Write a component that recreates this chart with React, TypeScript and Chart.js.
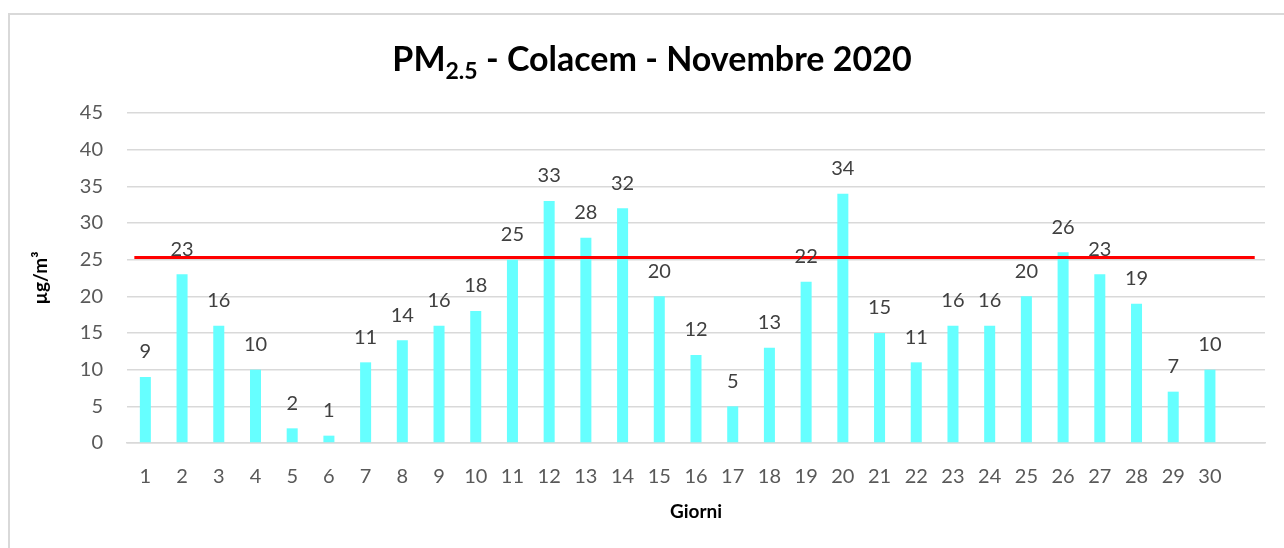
import React, { useEffect, useRef } from "react";
import { Chart, registerables } from "chart.js";

Chart.register(...registerables);

const days: string[] = [
  "1", "2", "3", "4", "5", "6", "7", "8", "9", "10",
  "11", "12", "13", "14", "15", "16", "17", "18", "19", "20",
  "21", "22", "23", "24", "25", "26", "27", "28", "29", "30", "",
];
const pm25: (number | null)[] = [
  9, 23, 16, 10, 2, 1, 11, 14, 16, 18,
  25, 33, 28, 32, 20, 12, 5, 13, 22, 34,
  15, 11, 16, 16, 20, 26, 23, 19, 7, 10, null,
];
const limitValue = 25.3;
const yTicks = { min: 0, max: 45, step: 5 };
const titleMain = "PM";
const titleSub = "2.5";
const titleRest = " - Colacem - Novembre 2020";
const yTitle = "µg/m³";
const xTitle = "Giorni";

const FONT = "Lato";

const titlePlugin = {
  id: "subTitle",
  afterDraw(chart: any) {
    const ctx = chart.ctx;
    ctx.save();
    const big = `bold 34px ${FONT}`;
    const small = `bold 23px ${FONT}`;
    ctx.font = big;
    const w1 = ctx.measureText(titleMain).width;
    const w3 = ctx.measureText(titleRest).width;
    ctx.font = small;
    const w2 = ctx.measureText(titleSub).width;
    const total = w1 + w2 + w3;
    const cx = chart.width / 2 + 10;
    let x = cx - total / 2;
    const baseY = 71;
    ctx.fillStyle = "#000000";
    ctx.textBaseline = "alphabetic";
    ctx.textAlign = "left";
    ctx.font = big;
    ctx.fillText(titleMain, x, baseY);
    x += w1;
    ctx.font = small;
    ctx.fillText(titleSub, x, baseY + 8);
    x += w2;
    ctx.font = big;
    ctx.fillText(titleRest, x, baseY);
    ctx.restore();
  },
};

const limitPlugin = {
  id: "limitLine",
  afterDatasetsDraw(chart: any) {
    const xs = chart.scales.x;
    const ys = chart.scales.y;
    const w = xs.getPixelForValue(1) - xs.getPixelForValue(0);
    const y = ys.getPixelForValue(limitValue);
    const x0 = xs.getPixelForValue(0) - 0.3 * w;
    const x1 = xs.getPixelForValue(days.length - 1) + 0.22 * w;
    const ctx = chart.ctx;
    ctx.save();
    ctx.strokeStyle = "#FF0000";
    ctx.lineWidth = 3;
    ctx.beginPath();
    ctx.moveTo(x0, y);
    ctx.lineTo(x1, y);
    ctx.stroke();
    ctx.restore();
  },
};

const labelPlugin = {
  id: "valueLabels",
  afterDraw(chart: any) {
    const meta = chart.getDatasetMeta(0);
    const ctx = chart.ctx;
    ctx.save();
    ctx.font = `20px ${FONT}`;
    ctx.fillStyle = "#404040";
    ctx.textAlign = "center";
    ctx.textBaseline = "middle";
    meta.data.forEach((bar: any, i: number) => {
      const v = pm25[i];
      if (v === null || v === undefined) return;
      ctx.fillText(String(v), bar.x, bar.y - 25);
    });
    ctx.restore();
  },
};

export default function App() {
  const ref = useRef<HTMLCanvasElement | null>(null);
  useEffect(() => {
    if (!ref.current) return;
    const chart = new Chart(ref.current, {
      type: "bar",
      data: {
        labels: days,
        datasets: [
          {
            data: pm25 as any,
            backgroundColor: "#66FFFF",
            borderWidth: 0,
            barPercentage: 0.3,
            categoryPercentage: 1.0,
          },
        ],
      },
      options: {
        animation: false,
        responsive: false,
        layout: { padding: { top: 113, right: 19, left: 0, bottom: 0 } },
        plugins: {
          legend: { display: false },
          tooltip: { enabled: false },
          title: { display: false },
        },
        scales: {
          x: {
            grid: { display: false },
            border: { display: true, color: "#D9D9D9", width: 1.5 },
            ticks: {
              color: "#595959",
              font: { family: FONT, size: 20 },
              padding: 14,
              maxRotation: 0,
              autoSkip: false,
            },
            title: {
              display: true,
              text: xTitle,
              color: "#000000",
              font: { family: FONT, size: 19, weight: "bold" },
              padding: { top: 0, bottom: 25 },
            },
            afterFit: (s: any) => {
              s.height = 105;
            },
          },
          y: {
            min: yTicks.min,
            max: yTicks.max,
            grid: { color: "#D9D9D9", lineWidth: 1.5, drawTicks: false },
            border: { display: false },
            ticks: {
              stepSize: yTicks.step,
              color: "#595959",
              font: { family: FONT, size: 20 },
              padding: 24,
            },
            title: {
              display: true,
              text: yTitle,
              color: "#000000",
              font: { family: FONT, size: 19, weight: "bold" },
              padding: { top: 29, bottom: 0 },
            },
            afterFit: (s: any) => {
              s.width = 127;
            },
          },
        },
      },
      plugins: [limitPlugin, labelPlugin, titlePlugin],
    });
    return () => chart.destroy();
  }, []);

  return (
    <div style={{ position: "fixed", left: 0, top: 0, width: 1284, height: 548, background: "#fff" }}>
      <div
        style={{
          position: "absolute",
          left: 8,
          top: 13,
          width: 1276,
          height: 535,
          boxSizing: "border-box",
          borderTop: "2px solid #D9D9D9",
          borderLeft: "2px solid #D9D9D9",
        }}
      />
      <canvas
        ref={ref}
        width={1284}
        height={548}
        style={{ position: "absolute", left: 0, top: 0, width: 1284, height: 548 }}
      />
    </div>
  );
}
